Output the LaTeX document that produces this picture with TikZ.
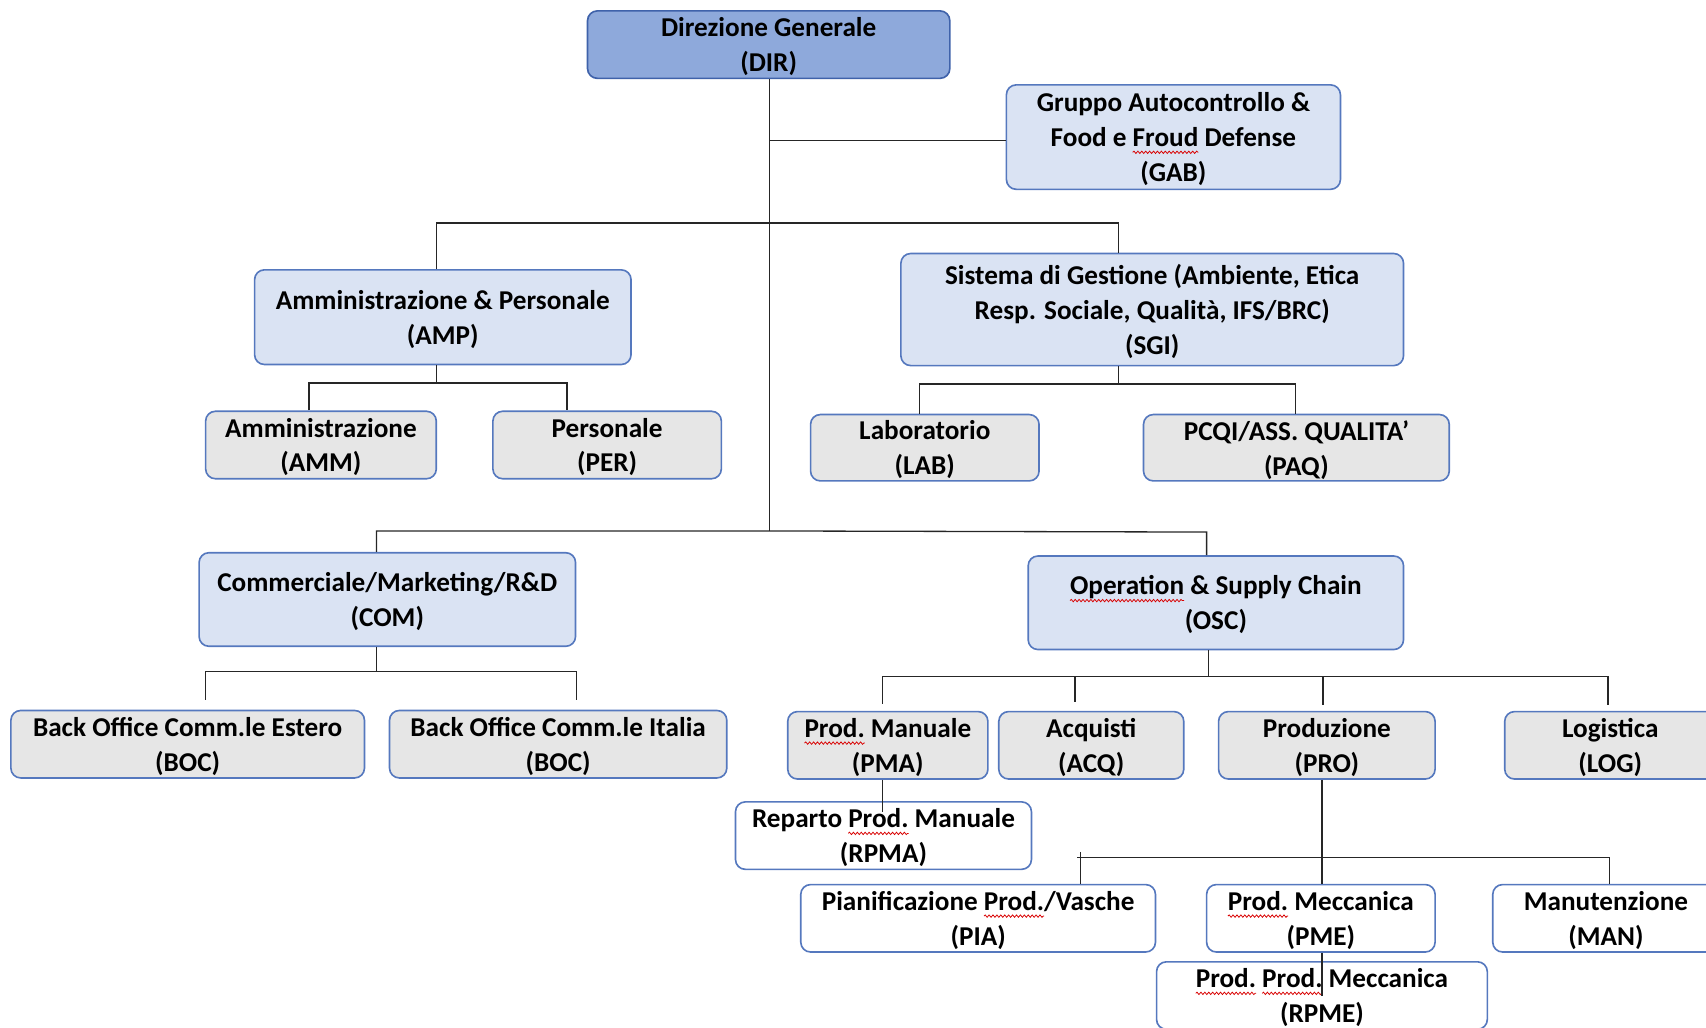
\documentclass[tikz,border=0pt]{standalone}
\usepackage{fontspec}
\setmainfont{Carlito}
\usetikzlibrary{decorations.pathmorphing}
\newsavebox\sqbox
\newlength\sqlen
\newcommand\sq[1]{\sbox\sqbox{#1}\setlength\sqlen{\wd\sqbox}\rlap{\tikz[baseline=0pt,x=1pt,y=1pt,sharp corners]{\useasboundingbox (0pt,0pt); \draw[sharp corners,red!85!black,line width=0.35pt,decorate,decoration={snake,amplitude=0.55pt,segment length=1.8pt}] (0pt,-2.6pt) -- (\sqlen,-2.6pt);}}\usebox\sqbox}
\definecolor{dirfill}{HTML}{8EA9DB}
\definecolor{dirline}{HTML}{3F62AA}
\definecolor{lbfill}{HTML}{DAE3F3}
\definecolor{bline}{HTML}{5578BE}
\definecolor{gyfill}{HTML}{E6E6E6}
\tikzset{
  base/.style={draw=bline, line width=0.75pt, rounded corners=4.5pt, inner sep=0pt, text depth=0pt,
    align=center, font=\fontsize{12.5}{16}\selectfont\bfseries, text=black},
  topbox/.style={base, fill=dirfill, draw=dirline},
  bluebox/.style={base, fill=lbfill},
  greybox/.style={base, fill=gyfill},
  whitebox/.style={base, fill=white},
  conn/.style={draw=black!85, line width=0.6pt},
}
\begin{document}
\begin{tikzpicture}[x=0.5pt,y=-0.5pt]
\useasboundingbox (0,0) rectangle (1568,944);
\clip (0,0) rectangle (1568,944);
% boxes
\node[topbox, minimum width=166.5pt, minimum height=31pt] (DIR) at (706.5,41) {Direzione Generale\\(DIR)};
\node[bluebox, minimum width=153.5pt, minimum height=48pt] (GAB) at (1078.5,126) {Gruppo Autocontrollo \&\\Food e \sq{Froud} Defense\\(GAB)};
\node[bluebox, minimum width=173pt, minimum height=43.5pt] (AMP) at (407,291.5) {Amministrazione \& Personale\\(AMP)};
\node[bluebox, minimum width=231pt, minimum height=51.5pt] (SGI) at (1059,284.5) {Sistema di Gestione (Ambiente, Etica\\Resp. Sociale, Qualità, IFS/BRC)\\(SGI)};
\node[greybox, minimum width=106pt, minimum height=31pt] (AMM) at (295,409) {Amministrazione\\(AMM)};
\node[greybox, minimum width=105pt, minimum height=31pt] (PER) at (558,409) {Personale\\(PER)};
\node[greybox, minimum width=105pt, minimum height=30.5pt] (LAB) at (850,411.5) {Laboratorio\\(LAB)};
\node[greybox, minimum width=140.5pt, minimum height=30.5pt] (PAQ) at (1191.5,411.5) {PCQI/ASS. QUALITA’\\(PAQ)};
\node[bluebox, minimum width=173pt, minimum height=43pt] (COM) at (356,551) {Commerciale/Marketing/R\&D\\(COM)};
\node[bluebox, minimum width=172.5pt, minimum height=43pt] (OSC) at (1117.5,554) {\sq{Operation} \& Supply Chain\\(OSC)};
\node[greybox, minimum width=162.5pt, minimum height=31pt] (BOCE) at (172.5,684) {Back Office Comm.le Estero\\(BOC)};
\node[greybox, minimum width=155pt, minimum height=31pt] (BOCI) at (513,684) {Back Office Comm.le Italia\\(BOC)};
\node[greybox, minimum width=92pt, minimum height=31pt] (PMA) at (816,685) {\sq{Prod.} Manuale\\(PMA)};
\node[greybox, minimum width=85pt, minimum height=31pt] (ACQ) at (1003,685) {Acquisti\\(ACQ)};
\node[greybox, minimum width=99.5pt, minimum height=31pt] (PRO) at (1219.5,685) {Produzione\\(PRO)};
\node[greybox, minimum width=97pt, minimum height=31pt] (LOG) at (1480,685) {Logistica\\(LOG)};
\node[whitebox, minimum width=136pt, minimum height=31pt] (RPMA) at (812,768) {Reparto \sq{Prod.} Manuale\\(RPMA)};
\node[whitebox, minimum width=163pt, minimum height=31pt] (PIA) at (899,844) {Pianificazione \sq{Prod.}/Vasche\\(PIA)};
\node[whitebox, minimum width=105pt, minimum height=31pt] (PME) at (1214,844) {\sq{Prod.} Meccanica\\(PME)};
\node[whitebox, minimum width=104pt, minimum height=31pt] (MAN) at (1476,844) {Manutenzione\\(MAN)};
\node[whitebox, minimum width=152pt, minimum height=31pt] (RPME) at (1215,915) {\sq{Prod.} \sq{Prod.} Meccanica\\(RPME)};
% connectors
\coordinate (t1) at (707,488);
\draw[conn] (707,0 |- DIR.south) -- (t1);
\draw[conn] (707,129) -- (GAB.west |- 0,129);
\draw[conn] (401,0 |- AMP.north) -- (401,205) -- (1028,205) -- (1028,0 |- SGI.north);
\draw[conn] (401,0 |- AMP.south) -- (401,352);
\draw[conn] (284,0 |- AMM.north) -- (284,352) -- (521,352) -- (521,0 |- PER.north);
\draw[conn] (1028,0 |- SGI.south) -- (1028,353);
\draw[conn] (845,0 |- LAB.north) -- (845,353) -- (1191,353) -- (1191,0 |- PAQ.north);
\draw[conn] (346,0 |- COM.north) -- (346,488) -- (t1) -- (1109,489) -- (1109,0 |- OSC.north);
\draw[conn] (346,0 |- COM.south) -- (346,617);
\coordinate (b1) at (189,643);
\coordinate (b2) at (530,643);
\draw[conn] (b1) -- (189,617) -- (530,617) -- (b2);
\draw[conn] (1111,0 |- OSC.south) -- (1111,622);
\coordinate (o1) at (811,647);
\coordinate (o2) at (988,645);
\coordinate (o3) at (1216,648);
\coordinate (o4) at (1478,648);
\draw[conn] (o1) -- (811,622) -- (1478,622) -- (o4);
\draw[conn] (988,622) -- (o2);
\draw[conn] (1216,622) -- (o3);
\coordinate (r1) at (811,746);
\draw[conn] (811,0 |- PMA.south) -- (r1);
\draw[conn] (1215,0 |- PRO.south) -- (1215,0 |- PME.north);
\draw[conn] (990,788) -- (1479,788) -- (1479,0 |- MAN.north);
\draw[conn] (993,783) -- (993,0 |- PIA.north);
\coordinate (r2) at (1215,915);
\draw[conn] (1215,0 |- PME.south) -- (r2);
\end{tikzpicture}
\end{document}
